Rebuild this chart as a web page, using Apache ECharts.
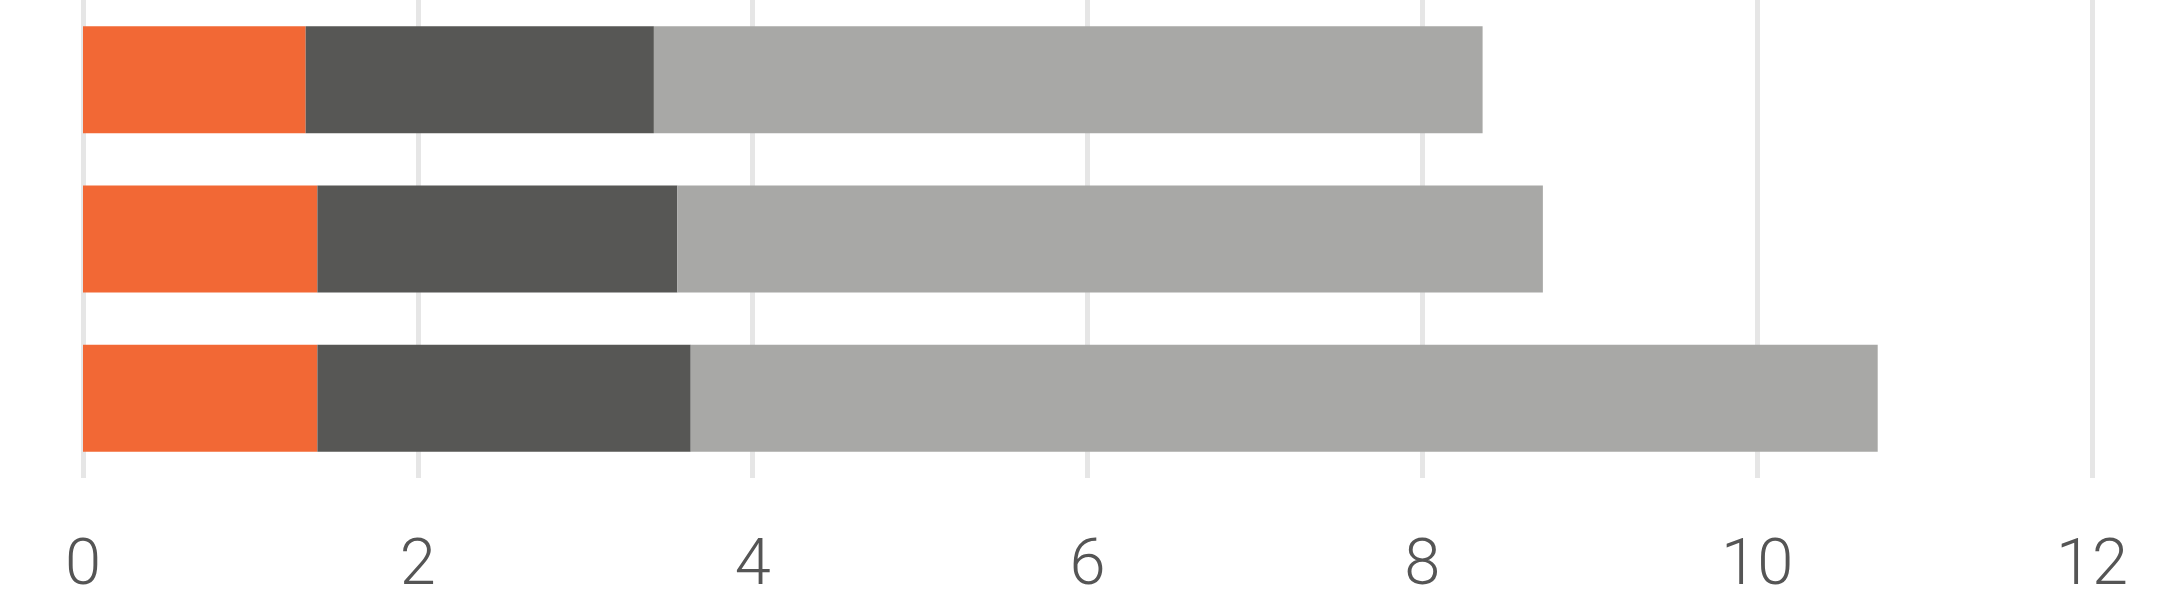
<!DOCTYPE html>
<html>
<head>
<meta charset="utf-8">
<script src="https://cdn.jsdelivr.net/npm/echarts@6/dist/echarts.min.js"></script>
<style>
  html, body { margin: 0; padding: 0; background: #fff; }
  #main { width: 2172px; height: 600px; }
</style>
</head>
<body>
<div id="main"></div>
<script>
// categories top -> bottom (labels not shown in the picture)
let categories = ['A', 'B', 'C']
let orangeVals = [1.33, 1.40, 1.40]
let darkVals = [2.08, 2.15, 2.23]
let greyVals = [4.95, 5.17, 7.09]
let xTicks = [0, 2, 4, 6, 8, 10, 12]

let chart = echarts.init(document.getElementById('main'))

function makeSeries(name, data, color) {
    return {
        name: name,
        type: 'bar',
        stack: 'total',
        barWidth: 107,
        data: data,
        itemStyle: { color: color },
        emphasis: { disabled: true }
    }
}

var option = {
    backgroundColor: '#ffffff',
    animation: false,
    grid: {
        left: 83,
        right: 80,
        top: -2,
        bottom: 121
    },
    xAxis: {
        type: 'value',
        min: xTicks[0],
        max: xTicks[xTicks.length - 1],
        interval: 2,
        axisLine: { show: false },
        axisTick: { show: false },
        splitLine: {
            show: true,
            lineStyle: { color: '#e6e6e6', width: 5 }
        },
        axisLabel: {
            margin: 57,
            color: '#555555',
            fontFamily: 'Roboto',
            fontWeight: 300,
            fontSize: 65
        }
    },
    yAxis: {
        type: 'category',
        inverse: true,
        data: categories,
        axisLine: { show: false },
        axisTick: { show: false },
        axisLabel: { show: false }
    },
    series: [
        makeSeries('s1', orangeVals, '#f26835'),
        makeSeries('s2', darkVals, '#575755'),
        makeSeries('s3', greyVals, '#a8a8a6')
    ]
}

chart.setOption(option)
</script>
</body>
</html>
